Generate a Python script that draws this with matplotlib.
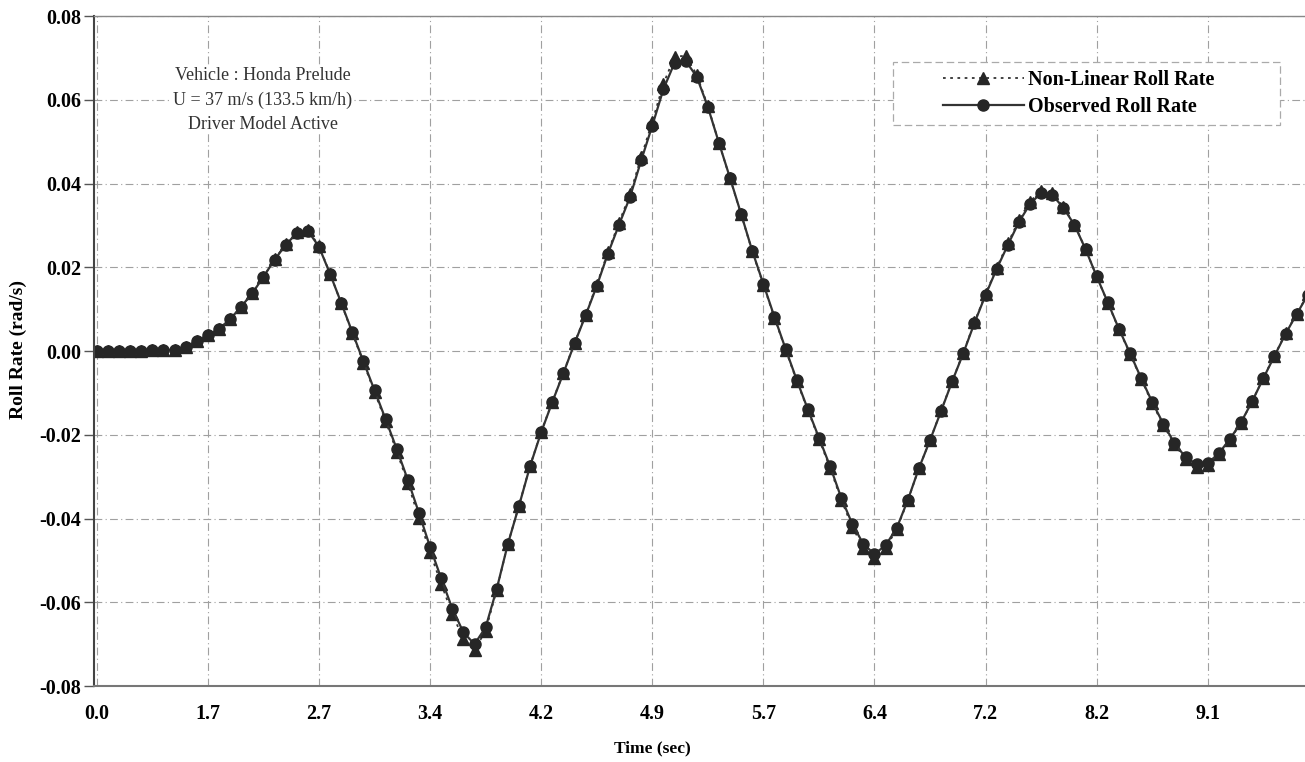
import numpy as np
import matplotlib
matplotlib.use("Agg")
import matplotlib.pyplot as plt
from matplotlib.patches import Rectangle

plt.rcParams['font.family'] = ['Liberation Serif', 'DejaVu Serif']

# Tick labels on the category axis (one every 10 samples)
time_labels = ["0.0", "1.7", "2.7", "3.4", "4.2", "4.9", "5.7", "6.4", "7.2", "8.2", "9.1"]

# Observed roll rate (rad/s), one value per sample
observed = [
    0.0000, 0.0000, 0.0000, 0.0000, 0.0001, 0.0002, 0.0002, 0.0003, 0.0010, 0.0024,
    0.0038, 0.0053, 0.0076, 0.0106, 0.0138, 0.0177, 0.0218, 0.0253, 0.0282, 0.0287,
    0.0249, 0.0184, 0.0115, 0.0045, -0.0025, -0.0094, -0.0163, -0.0234, -0.0308, -0.0387,
    -0.0468, -0.0543, -0.0615, -0.0672, -0.0700, -0.0660, -0.0568, -0.0461, -0.0370, -0.0275,
    -0.0194, -0.0122, -0.0053, 0.0018, 0.0085, 0.0155, 0.0232, 0.0301, 0.0368, 0.0455,
    0.0538, 0.0625, 0.0688, 0.0693, 0.0655, 0.0583, 0.0497, 0.0413, 0.0327, 0.0239,
    0.0160, 0.0081, 0.0005, -0.0069, -0.0139, -0.0207, -0.0275, -0.0350, -0.0413, -0.0461,
    -0.0485, -0.0464, -0.0423, -0.0356, -0.0280, -0.0213, -0.0143, -0.0072, -0.0005, 0.0067,
    0.0134, 0.0196, 0.0253, 0.0308, 0.0351, 0.0378, 0.0373, 0.0342, 0.0301, 0.0243,
    0.0178, 0.0116, 0.0053, -0.0005, -0.0065, -0.0122, -0.0174, -0.0220, -0.0254, -0.0270,
    -0.0268, -0.0244, -0.0210, -0.0170, -0.0120, -0.0065, -0.0012, 0.0041, 0.0088, 0.0134,
]

# Non-linear model roll rate (rad/s)
nonlinear = [
    0.0000, 0.0000, 0.0000, 0.0000, 0.0001, 0.0002, 0.0002, 0.0003, 0.0010, 0.0024,
    0.0038, 0.0053, 0.0076, 0.0106, 0.0138, 0.0177, 0.0219, 0.0255, 0.0285, 0.0290,
    0.0251, 0.0185, 0.0114, 0.0043, -0.0028, -0.0098, -0.0168, -0.0240, -0.0316, -0.0399,
    -0.0481, -0.0556, -0.0628, -0.0688, -0.0714, -0.0668, -0.0570, -0.0461, -0.0369, -0.0274,
    -0.0193, -0.0121, -0.0052, 0.0019, 0.0087, 0.0158, 0.0236, 0.0306, 0.0375, 0.0463,
    0.0548, 0.0638, 0.0703, 0.0705, 0.0660, 0.0585, 0.0497, 0.0412, 0.0326, 0.0238,
    0.0158, 0.0079, 0.0003, -0.0071, -0.0141, -0.0210, -0.0279, -0.0355, -0.0420, -0.0470,
    -0.0495, -0.0470, -0.0426, -0.0357, -0.0280, -0.0213, -0.0142, -0.0071, -0.0004, 0.0069,
    0.0136, 0.0199, 0.0257, 0.0313, 0.0357, 0.0383, 0.0377, 0.0344, 0.0302, 0.0243,
    0.0178, 0.0115, 0.0052, -0.0007, -0.0067, -0.0125, -0.0177, -0.0223, -0.0258, -0.0277,
    -0.0273, -0.0247, -0.0212, -0.0171, -0.0120, -0.0064, -0.0011, 0.0042, 0.0089, 0.0135,
]

idx = np.arange(len(observed))

fig = plt.figure(figsize=(13.05, 7.62), dpi=100)
ax = fig.add_axes([94 / 1305, 1 - 686 / 762, 1 - 94 / 1305, (686 - 16) / 762])

ax.plot(idx, nonlinear, color="#333333", linestyle=(0, (1.5, 2.5)), linewidth=1.3,
        marker="^", markersize=8.5, markerfacecolor="#262626", markeredgecolor="#262626",
        label="Non-Linear Roll Rate")
ax.plot(idx, observed, color="#333333", linestyle="-", linewidth=1.6,
        marker="o", markersize=8, markerfacecolor="#262626", markeredgecolor="#262626",
        label="Observed Roll Rate")

ax.set_xlim(-0.25, 108.75)
ax.set_ylim(-0.08, 0.08)

ax.set_xticks(np.arange(0, 10 * len(time_labels), 10))
ax.set_xticklabels(time_labels)
ax.set_yticks(np.arange(-0.08, 0.0801, 0.02))
ax.set_yticklabels([f"{v:.2f}" for v in np.arange(-0.08, 0.0801, 0.02)])

for lab in ax.get_xticklabels() + ax.get_yticklabels():
    lab.set_fontweight("bold")
    lab.set_fontsize(14.5)
ax.tick_params(axis="x", length=0, pad=13)
ax.tick_params(axis="y", length=7, width=1, color="#555555", pad=2, direction="out")

ax.grid(True, color="#a0a0a0", linestyle=(0, (7, 3, 1, 3)), linewidth=0.8)
ax.set_axisbelow(True)

ax.spines["right"].set_visible(False)
ax.spines["top"].set_color("#888888")
ax.spines["top"].set_linewidth(1.0)
ax.spines["left"].set_color("#444444")
ax.spines["left"].set_linewidth(1.5)
ax.spines["bottom"].set_color("#777777")
ax.spines["bottom"].set_linewidth(1.5)

# Annotation block (white background hides the grid behind it)
ax.text(0.1396, 0.8746, "Vehicle : Honda Prelude\nU = 37 m/s (133.5 km/h)\nDriver Model Active",
        transform=ax.transAxes, ha="center", va="center", fontsize=13,
        color="#333333", linespacing=1.55,
        bbox=dict(facecolor="white", edgecolor="none", pad=1))

# Legend with a dashed box around it
box = Rectangle((0.66, 0.837), 0.319, 0.094, transform=ax.transAxes, fill=True,
                facecolor="white", edgecolor="#aaaaaa", linestyle=(0, (6, 3)),
                linewidth=0.9, zorder=4)
ax.add_patch(box)
leg = ax.legend(loc="center", bbox_to_anchor=(0.813, 0.884), frameon=False,
                handlelength=4.0, handletextpad=0.2, labelspacing=0.35,
                prop={"weight": "bold", "size": 14.5})
leg.set_zorder(5)

fig.text(652 / 1305, 1 - 748 / 762, "Time (sec)", ha="center", va="center",
         fontsize=12.5, fontweight="bold")
fig.text(18 / 1305, 1 - 350 / 762, "Roll Rate (rad/s)", ha="center", va="center",
         rotation=90, fontsize=14, fontweight="bold")

plt.savefig("out.png", dpi=100, facecolor="white")
plt.close()
